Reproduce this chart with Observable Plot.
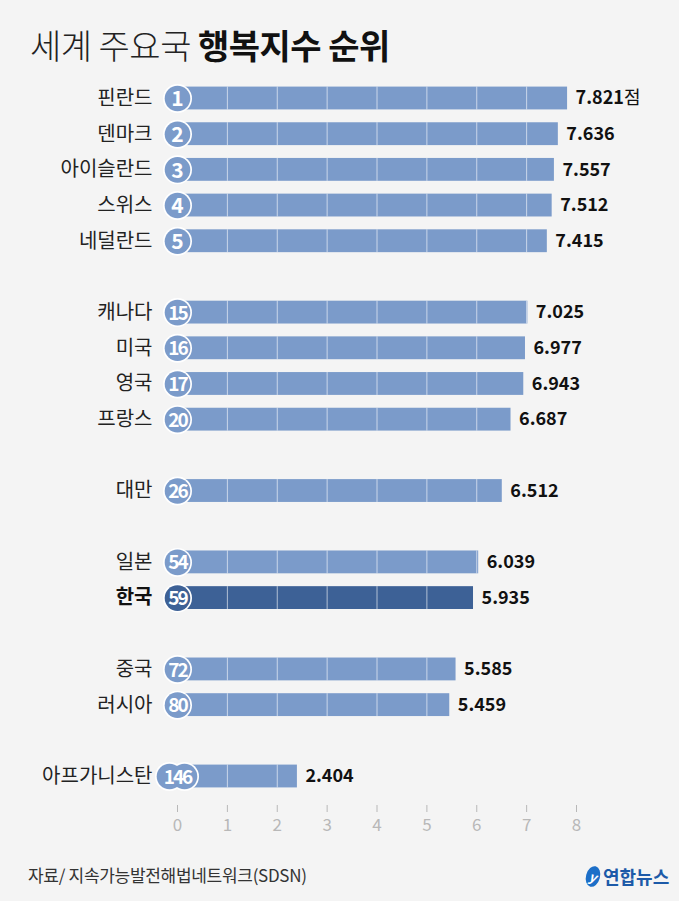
<!DOCTYPE html>
<html><head><meta charset="utf-8">
<script src="https://cdn.jsdelivr.net/npm/d3@7"></script>
<script src="https://cdn.jsdelivr.net/npm/@observablehq/plot@0.6"></script>
<style>
html,body{margin:0;padding:0;background:#f4f4f4;}
body{font-family:"Noto Sans CJK KR","Noto Sans",sans-serif;}
#wrap{position:relative;width:679px;height:901px;overflow:hidden;background:#f4f4f4;}
#title{position:absolute;left:30px;top:21px;font-size:34px;line-height:48px;color:#111;white-space:nowrap;letter-spacing:-0.5px;}
#title .light{font-weight:300;color:#222;}
#title .bold{font-weight:700;}
#chart{position:absolute;left:0;top:75px;}
#source{position:absolute;left:28px;top:863px;font-size:17px;line-height:24px;color:#333;white-space:nowrap;letter-spacing:-0.3px;}
#logo{position:absolute;left:586px;top:862px;height:28px;display:flex;align-items:center;color:#1c5aa8;font-weight:700;font-size:18px;white-space:nowrap;}
#logo .icon{display:inline-block;width:14px;height:21px;border-radius:50%;background:#1c6fc8;color:#fff;font-size:13px;line-height:21px;text-align:center;font-style:italic;margin-right:3px;transform:rotate(15deg);}
</style>
</head>
<body>
<div id="wrap">
  <div id="title"><span class="light">세계 주요국 </span><span class="bold">행복지수 순위</span></div>
  <div id="chart"></div>
  <div id="source">자료/ 지속가능발전해법네트워크(SDSN)</div>
  <div id="logo"><span class="icon">y</span>연합뉴스</div>
</div>
<script>
const countries = ["핀란드","덴마크","아이슬란드","스위스","네덜란드","캐나다","미국","영국","프랑스","대만","일본","한국","중국","러시아","아프가니스탄"];
const ranks = [1,2,3,4,5,15,16,17,20,26,54,59,72,80,146];
const scores = [7.821,7.636,7.557,7.512,7.415,7.025,6.977,6.943,6.687,6.512,6.039,5.935,5.585,5.459,2.404];
const groupSizes = [5,4,1,2,2,1];
const highlight = "한국";
const unitLabel = "점";
const xTicks = [0,1,2,3,4,5,6,7,8];

// slot positions with a blank row between groups
const slots = [];
let s = 0;
for (const n of groupSizes) { for (let i = 0; i < n; i++) slots.push(s++); s++; }

const data = countries.map((c, i) => ({country: c, rank: ranks[i], score: scores[i], slot: slots[i], hi: c === highlight, zero: 0}));
const normal = data.filter(d => d.rank < 100);
const wide = data.filter(d => d.rank >= 100);
const gridData = data.flatMap(d => xTicks.filter(k => k > 0 && k < d.score).map(k => ({k, slot: d.slot, hi: d.hi})));

const BAR = "#7b9bca", BAR_HI = "#3d6196";
const half = 0.32;
const col = d => d.hi ? BAR_HI : BAR;

const chart = Plot.plot({
  width: 679,
  height: 770,
  marginTop: 0, marginBottom: 40, marginLeft: 0, marginRight: 0,
  style: {background: "transparent", fontFamily: "'Noto Sans CJK KR', 'Noto Sans', sans-serif"},
  x: {type: "linear", domain: [0, 8], range: [177, 576]},
  y: {type: "linear", domain: [0, slots[slots.length - 1]], range: [23, 701], axis: null},
  marks: [
    Plot.rect(data, {x1: "zero", x2: "score", y1: d => d.slot - half, y2: d => d.slot + half, fill: col}),
    Plot.ruleX(gridData, {x: "k", y1: d => d.slot - half, y2: d => d.slot + half, stroke: "#ffffff", strokeOpacity: 0.6, strokeWidth: 1}),
    // badge outlines
    Plot.dot(normal, {x: "zero", y: "slot", r: 14.5, fill: "#ffffff"}),
    Plot.dot(wide, {x: "zero", y: "slot", r: 14.5, fill: "#ffffff", dx: -8}),
    Plot.dot(wide, {x: "zero", y: "slot", r: 14.5, fill: "#ffffff", dx: 7}),
    // badge fills
    Plot.dot(normal, {x: "zero", y: "slot", r: 12.8, fill: col}),
    Plot.dot(wide, {x: "zero", y: "slot", r: 12.8, fill: col, dx: -8}),
    Plot.dot(wide, {x: "zero", y: "slot", r: 12.8, fill: col, dx: 7}),
    Plot.text(data, {x: "zero", y: "slot", text: d => String(d.rank), fill: "#ffffff", fontWeight: 700, fontSize: 21, dy: 1}),
    // country labels
    Plot.text(data.filter(d => !d.hi), {x: "zero", y: "slot", text: "country", textAnchor: "end", dx: -25, fontSize: 20, fill: "#222"}),
    Plot.text(data.filter(d => d.hi), {x: "zero", y: "slot", text: "country", textAnchor: "end", dx: -25, fontSize: 20, fontWeight: 700, fill: "#111"}),
    // values
    Plot.text(data, {x: "score", y: "slot", text: d => d.score.toFixed(3), textAnchor: "start", dx: 8, fontSize: 18, fontWeight: 700, fill: "#111"}),
    Plot.axisX({ticks: xTicks, tickSize: 7, tickPadding: 6, fontSize: 17, color: "#b8b8b8", tickFormat: d => String(d)})
  ]
});
document.getElementById("chart").appendChild(chart);

// unit after first value, and tighter spacing for multi-digit ranks
const rankStrs = new Set(ranks.map(String));
d3.select(chart).selectAll("text").each(function() {
  const t = this.textContent;
  if (t === scores[0].toFixed(3)) {
    d3.select(this).append("tspan").attr("font-weight", 400).attr("font-size", 18).text(unitLabel);
  }
  const g = this.closest("g");
  if (rankStrs.has(t) && t.length > 1 && g && g.getAttribute("fill") === "#ffffff") {
    d3.select(this).attr("letter-spacing", -2).attr("font-size", 19);
  }
});
</script>
</body></html>
